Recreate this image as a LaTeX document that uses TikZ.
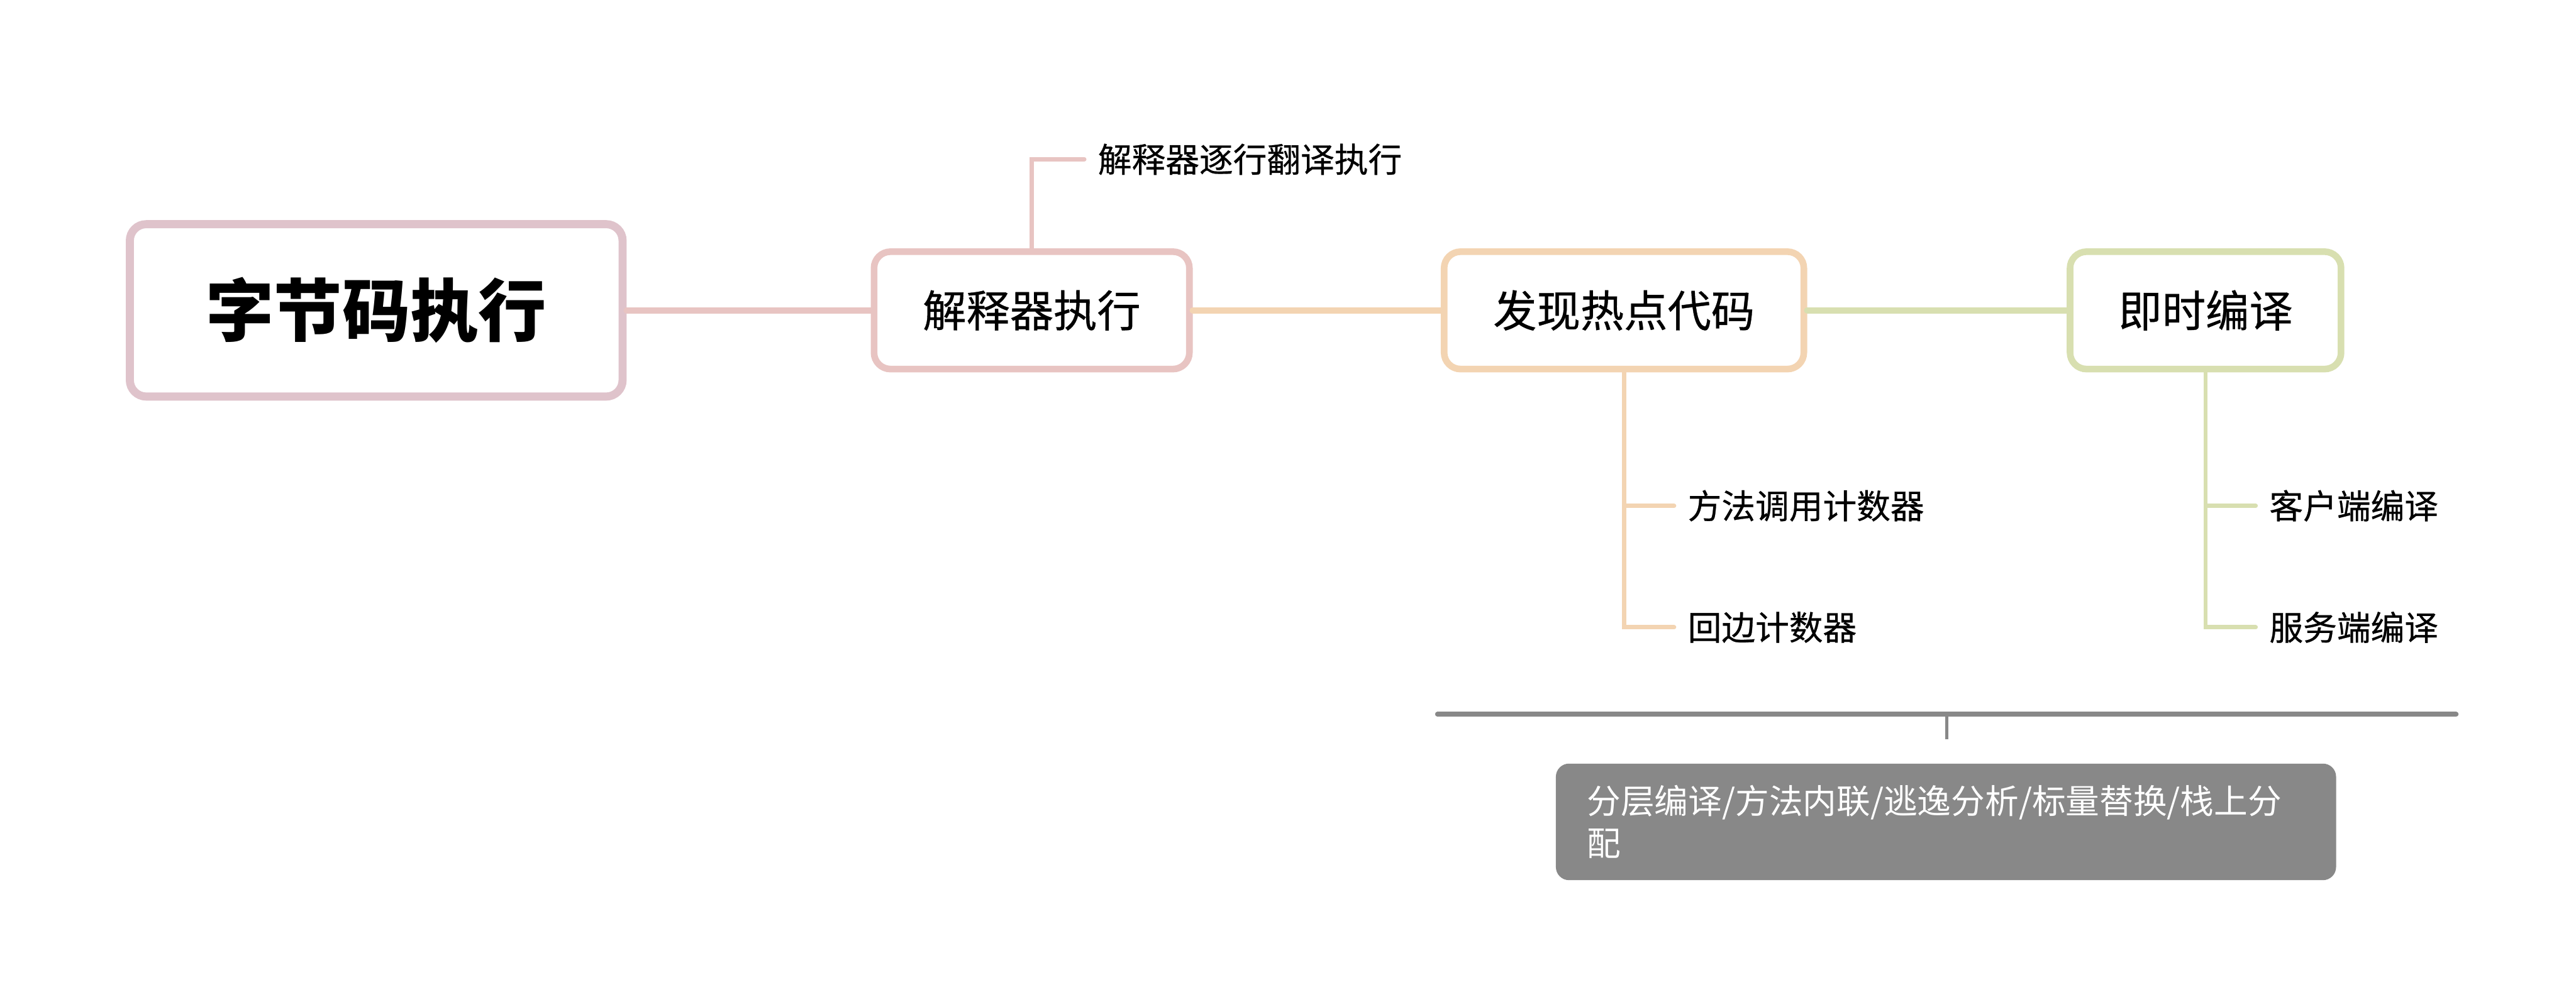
\documentclass[tikz,border=0pt]{standalone}
\usepackage{fontspec}
\setmainfont{Noto Sans CJK SC}
\newfontfamily\mediumcjk{Noto Sans CJK SC}[FakeBold=0.5]
\usepackage{tikz}
\usetikzlibrary{positioning,calc}
\definecolor{rootpink}{HTML}{DFC3CB}
\definecolor{interppink}{HTML}{E8C4C2}
\definecolor{hotpeach}{HTML}{F3D4B2}
\definecolor{jitgreen}{HTML}{D8DFB0}
\definecolor{notegray}{HTML}{888888}

\begin{document}
\begin{tikzpicture}[x=0.02cm, y=-0.02cm,
    rootbox/.style={draw=rootpink, line width=2.8pt, rounded corners=0.2cm, fill=white,
      minimum width=6.0cm, minimum height=2.1cm, font=\fontsize{23.6}{28}\selectfont\bfseries},
    topicbox/.style={line width=2.3pt, rounded corners=0.2cm, fill=white,
      minimum height=1.43cm, font=\mediumcjk\fontsize{15.1}{18}\selectfont},
    leaf/.style={anchor=west, inner xsep=0.16cm, inner ysep=0pt, font=\mediumcjk\fontsize{11.7}{14}\selectfont},
    branch/.style={line width=2.2pt, line cap=round},
    twig/.style={line width=1.5pt, line cap=round},
    notebox/.style={fill=notegray, text=white, rounded corners=0.16cm, text width=8.74cm,
      inner xsep=0.38cm, minimum height=1.42cm, align=left,
      font=\fontsize{11.7}{14.7}\selectfont}]
    \useasboundingbox (0,0) rectangle (1568,610);
    % main chain
    \node[rootbox] (root) at (229,189) {字节码执行};
    \node[topicbox, draw=interppink, minimum width=3.84cm] (interp) at (628,189) {解释器执行};
    \node[topicbox, draw=hotpeach, minimum width=4.38cm] (hot) at (988.5,189) {发现热点代码};
    \node[topicbox, draw=jitgreen, minimum width=3.3cm] (jit) at (1342.5,189) {即时编译};
    \draw[branch, interppink] (root) -- (interp);
    \draw[branch, hotpeach] (interp) -- (hot);
    \draw[branch, jitgreen] (hot) -- (jit);
    % leaves
    \node[leaf] (stepwise) at (660,97) {解释器逐行翻译执行};
    \node[leaf] (methodcnt) at (1019,308) {方法调用计数器};
    \node[leaf] (backcnt) at (1019,382) {回边计数器};
    \node[leaf] (client) at (1373,308) {客户端编译};
    \node[leaf] (server) at (1373,382) {服务端编译};
    \draw[twig, interppink] (interp.north) |- (stepwise.west);
    \draw[twig, hotpeach] (hot.south) |- (methodcnt.west);
    \draw[twig, hotpeach] (hot.south) |- (backcnt.west);
    \draw[twig, jitgreen] (jit.south) |- (client.west);
    \draw[twig, jitgreen] (jit.south) |- (server.west);
    % summary
    \coordinate (bracel) at (875,435);
    \coordinate (bracer) at (1495,435);
    \coordinate (bracemid) at (1185,435);
    \node[notebox] (optnote) at (1184.5,500.5) {分层编译/方法内联/逃逸分析/标量替换/栈上分\\配};
    \draw[line width=1.7pt, notegray, line cap=round] (bracel) -- (bracer);
    \draw[line width=1.2pt, notegray] (bracemid) -- ++(0,15);
\end{tikzpicture}
\end{document}
